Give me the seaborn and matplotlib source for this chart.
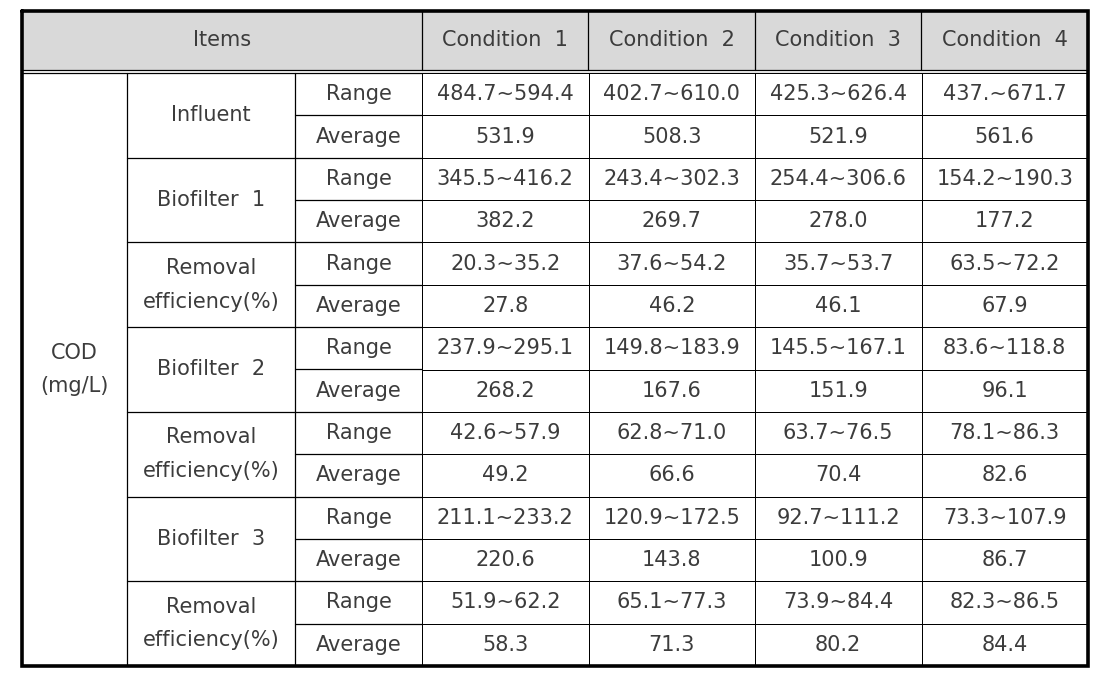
import matplotlib
matplotlib.use("Agg")
import matplotlib.pyplot as plt
from matplotlib.colors import ListedColormap
import numpy as np
import seaborn as sns

conditions = ["Condition  1", "Condition  2", "Condition  3", "Condition  4"]
parameter = "COD\n(mg/L)"
groups = ["Influent", "Biofilter  1", "Removal\nefficiency(%)", "Biofilter  2",
          "Removal\nefficiency(%)", "Biofilter  3", "Removal\nefficiency(%)"]
stats = ["Range", "Average"]

ranges = [
    ["484.7~594.4", "402.7~610.0", "425.3~626.4", "437.~671.7"],
    ["345.5~416.2", "243.4~302.3", "254.4~306.6", "154.2~190.3"],
    ["20.3~35.2", "37.6~54.2", "35.7~53.7", "63.5~72.2"],
    ["237.9~295.1", "149.8~183.9", "145.5~167.1", "83.6~118.8"],
    ["42.6~57.9", "62.8~71.0", "63.7~76.5", "78.1~86.3"],
    ["211.1~233.2", "120.9~172.5", "92.7~111.2", "73.3~107.9"],
    ["51.9~62.2", "65.1~77.3", "73.9~84.4", "82.3~86.5"],
]
averages = [
    ["531.9", "508.3", "521.9", "561.6"],
    ["382.2", "269.7", "278.0", "177.2"],
    ["27.8", "46.2", "46.1", "67.9"],
    ["268.2", "167.6", "151.9", "96.1"],
    ["49.2", "66.6", "70.4", "82.6"],
    ["220.6", "143.8", "100.9", "86.7"],
    ["58.3", "71.3", "80.2", "84.4"],
]

sns.set_theme(style="white")
plt.rcParams["font.family"] = ["DejaVu Sans"]
FS = 15
TXT = "#3c3c3c"
LW = 0.9

W, H = 1114, 681
fig = plt.figure(figsize=(W / 100, H / 100), dpi=100)

# layout in pixels
x_edges = [22, 127, 295, 422, 588, 755, 921, 1088]
y_top, y_head, y_bot = 11, 73, 666
n_rows = len(groups) * 2
row_h = (y_bot - y_head) / n_rows

ax = fig.add_axes([0, 0, 1, 1])
ax.set_xlim(0, W)
ax.set_ylim(H, 0)
ax.axis("off")

# header
ax.fill_between([x_edges[0], x_edges[-1]], y_top, y_head - 3, color="#d9d9d9", lw=0)
ax.text((x_edges[0] + x_edges[3]) / 2, (y_top + y_head - 3) / 2, "Items",
        ha="center", va="center", fontsize=FS, color=TXT)
for i, c in enumerate(conditions):
    xc = (x_edges[3 + i] + x_edges[4 + i]) / 2
    ax.text(xc, (y_top + y_head - 3) / 2, c, ha="center", va="center", fontsize=FS, color=TXT)
for xe in x_edges[3:-1]:
    ax.plot([xe, xe], [y_top, y_head - 3], color="black", lw=LW)
ax.plot([x_edges[0], x_edges[-1]], [y_head - 3, y_head - 3], color="black", lw=LW)
ax.plot([x_edges[0], x_edges[-1]], [y_head, y_head], color="black", lw=LW)

# parameter column
ax.text((x_edges[0] + x_edges[1]) / 2, (y_head + y_bot) / 2, parameter,
        ha="center", va="center", fontsize=FS, color=TXT, linespacing=1.85)
ax.plot([x_edges[1], x_edges[1]], [y_head, y_bot], color="black", lw=LW)
ax.plot([x_edges[2], x_edges[2]], [y_head, y_bot], color="black", lw=LW)

for g, name in enumerate(groups):
    y0 = y_head + 2 * g * row_h
    ax.text((x_edges[1] + x_edges[2]) / 2, y0 + row_h, name, ha="center", va="center",
            fontsize=FS, color=TXT, linespacing=1.85)
    if g > 0:
        ax.plot([x_edges[1], x_edges[3]], [y0, y0], color="black", lw=LW)
    for s, st in enumerate(stats):
        yc = y0 + (s + 0.5) * row_h
        ax.text((x_edges[2] + x_edges[3]) / 2, yc, st, ha="center", va="center",
                fontsize=FS, color=TXT)
    ax.plot([x_edges[2], x_edges[3]], [y0 + row_h, y0 + row_h], color="black", lw=LW)

# value block drawn as a seaborn heatmap
labels = []
for r, a in zip(ranges, averages):
    labels.append(r)
    labels.append(a)
labels = np.array(labels)
ax_hm = fig.add_axes([x_edges[3] / W, 1 - y_bot / H,
                      (x_edges[-1] - x_edges[3]) / W, (y_bot - y_head) / H])
sns.heatmap(np.zeros(labels.shape), annot=labels, fmt="", cmap=ListedColormap(["white"]),
            cbar=False, linewidths=0.6, linecolor="black", ax=ax_hm,
            annot_kws={"fontsize": FS, "color": TXT})
ax_hm.set_xticks([])
ax_hm.set_yticks([])

# outer border on top
ax_top = fig.add_axes([0, 0, 1, 1])
ax_top.set_xlim(0, W)
ax_top.set_ylim(H, 0)
ax_top.axis("off")
ax_top.patch.set_alpha(0)
ax_top.plot([x_edges[0], x_edges[-1], x_edges[-1], x_edges[0], x_edges[0]],
            [y_top, y_top, y_bot, y_bot, y_top], color="black", lw=2.6,
            solid_joinstyle="miter")

fig.savefig("out.png", dpi=100)
